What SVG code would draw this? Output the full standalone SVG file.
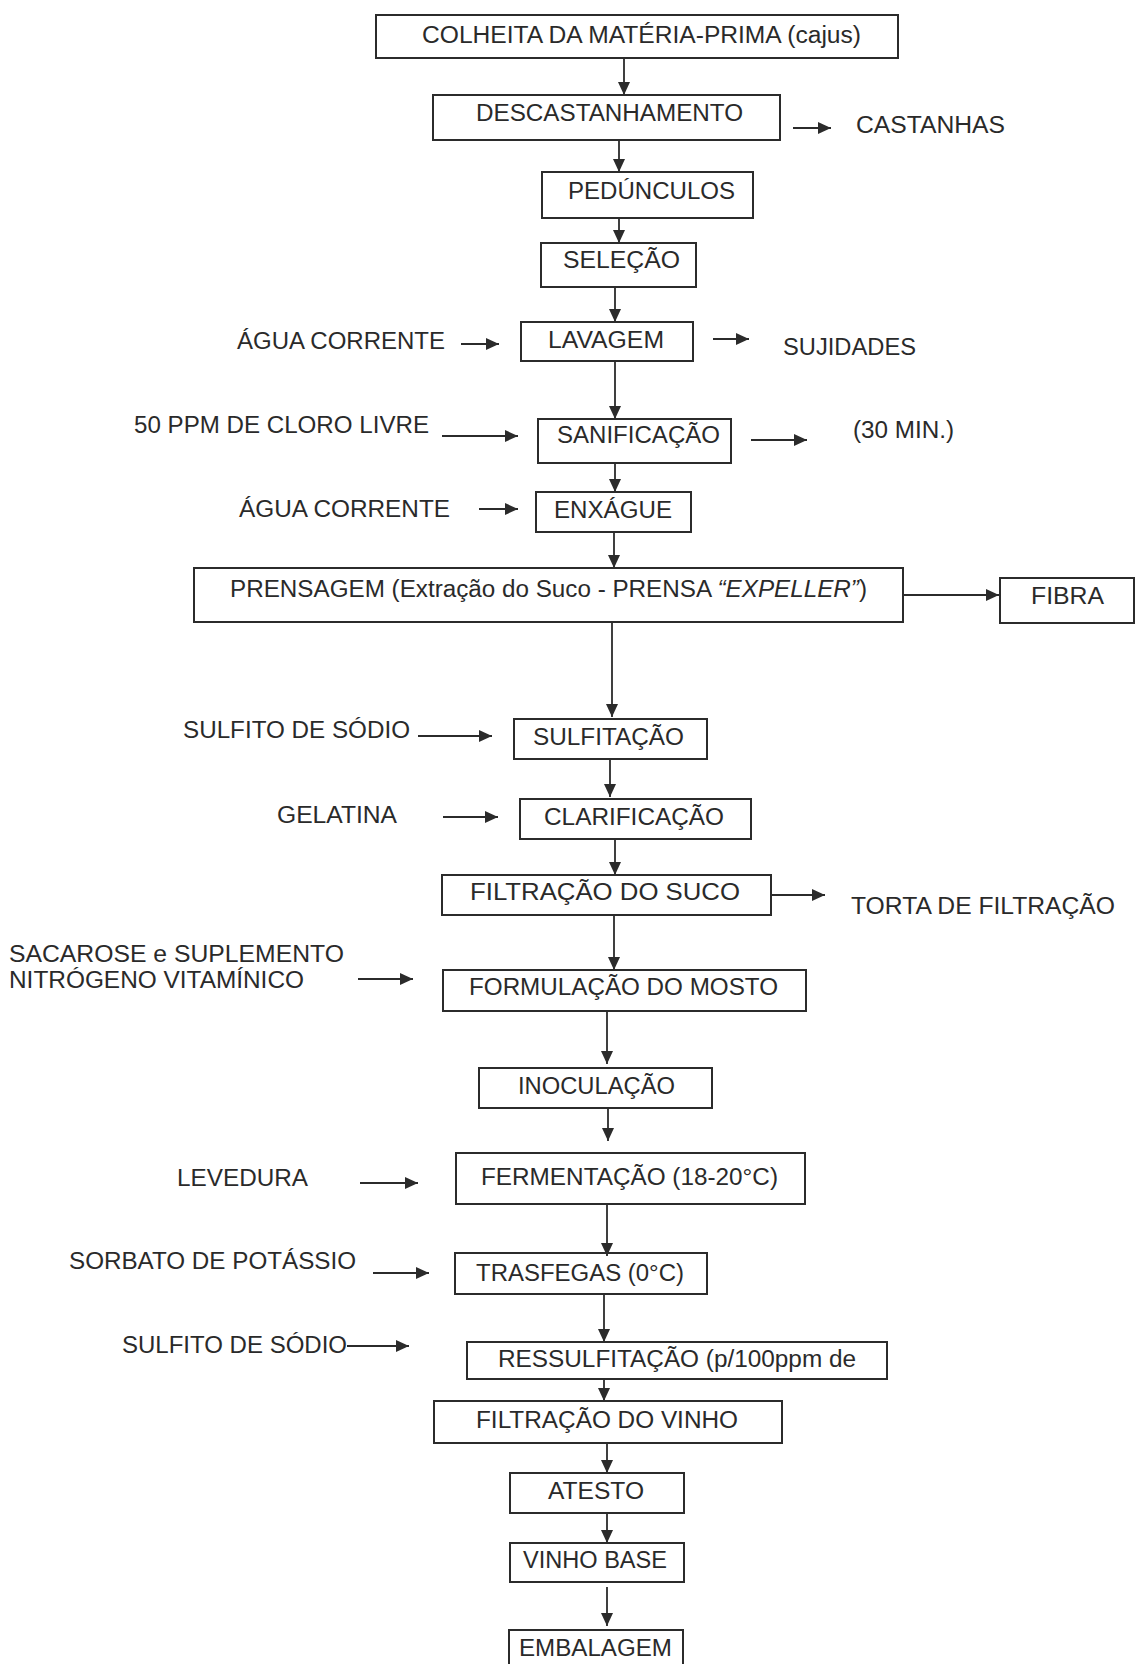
<svg xmlns="http://www.w3.org/2000/svg" width="1135" height="1664" viewBox="0 0 1135 1664">
<style>
.b{fill:none;stroke:#2b2b2b;stroke-width:2}
.t{font-family:"Liberation Sans",Arial,sans-serif;font-size:23px;fill:#2a2a2a}
.c line{stroke:#2b2b2b;stroke-width:1.8;marker-end:url(#ah)}
</style>
<defs>
<marker id="ah" markerUnits="userSpaceOnUse" markerWidth="16" markerHeight="14" refX="13" refY="6" orient="auto">
<path d="M0,0 L13,6 L0,12 Z" fill="#2b2b2b"/>
</marker>
</defs>
<rect width="1135" height="1664" fill="#fff"/>
<g id="connectors" class="c">
<line x1="624" y1="58" x2="624" y2="95"/>
<line x1="619" y1="140" x2="619" y2="172"/>
<line x1="619" y1="218" x2="619" y2="243"/>
<line x1="615" y1="287" x2="615" y2="322"/>
<line x1="615" y1="361" x2="615" y2="419"/>
<line x1="615" y1="463" x2="615" y2="492"/>
<line x1="614" y1="532" x2="614" y2="568"/>
<line x1="612" y1="622" x2="612" y2="717"/>
<line x1="610" y1="759" x2="610" y2="797"/>
<line x1="615" y1="839" x2="615" y2="875"/>
<line x1="614" y1="915" x2="614" y2="970"/>
<line x1="607" y1="1011" x2="607" y2="1064"/>
<line x1="608" y1="1108" x2="608" y2="1141"/>
<line x1="607" y1="1204" x2="607" y2="1256"/>
<line x1="604" y1="1294" x2="604" y2="1342"/>
<line x1="604" y1="1379" x2="604" y2="1401"/>
<line x1="607" y1="1443" x2="607" y2="1473"/>
<line x1="607" y1="1513" x2="607" y2="1543"/>
<line x1="607" y1="1587" x2="607" y2="1626"/>
<line x1="793" y1="128" x2="831" y2="128"/>
<line x1="461" y1="344" x2="499" y2="344"/>
<line x1="713" y1="339" x2="749" y2="339"/>
<line x1="442" y1="436" x2="518" y2="436"/>
<line x1="751" y1="440" x2="807" y2="440"/>
<line x1="479" y1="509" x2="518" y2="509"/>
<line x1="903" y1="595" x2="999" y2="595"/>
<line x1="418" y1="736" x2="492" y2="736"/>
<line x1="443" y1="817" x2="498" y2="817"/>
<line x1="771" y1="895" x2="825" y2="895"/>
<line x1="358" y1="979" x2="413" y2="979"/>
<line x1="360" y1="1183" x2="418" y2="1183"/>
<line x1="373" y1="1273" x2="429" y2="1273"/>
<line x1="347" y1="1346" x2="409" y2="1346"/>
</g>
<g id="n-colheita"><rect class="b" x="376" y="15" width="522" height="43"/><text class="t" x="422" y="43" textLength="439" lengthAdjust="spacingAndGlyphs">COLHEITA DA MATÉRIA-PRIMA (cajus)</text></g>
<g id="n-descast"><rect class="b" x="433" y="95" width="347" height="45"/><text class="t" x="476" y="121" textLength="267" lengthAdjust="spacingAndGlyphs">DESCASTANHAMENTO</text></g>
<g id="n-castanhas"><text class="t" x="856" y="133" textLength="149" lengthAdjust="spacingAndGlyphs">CASTANHAS</text></g>
<g id="n-pedunculos"><rect class="b" x="542" y="172" width="211" height="46"/><text class="t" x="568" y="199" textLength="167" lengthAdjust="spacingAndGlyphs">PEDÚNCULOS</text></g>
<g id="n-selecao"><rect class="b" x="541" y="243" width="155" height="44"/><text class="t" x="563" y="268" textLength="117" lengthAdjust="spacingAndGlyphs">SELEÇÃO</text></g>
<g id="n-agua1"><text class="t" x="237" y="349" textLength="208" lengthAdjust="spacingAndGlyphs">ÁGUA CORRENTE</text></g>
<g id="n-lavagem"><rect class="b" x="521" y="322" width="172" height="39"/><text class="t" x="548" y="348" textLength="116" lengthAdjust="spacingAndGlyphs">LAVAGEM</text></g>
<g id="n-sujidades"><text class="t" x="783" y="355" textLength="133" lengthAdjust="spacingAndGlyphs">SUJIDADES</text></g>
<g id="n-cloro"><text class="t" x="134" y="433" textLength="295" lengthAdjust="spacingAndGlyphs">50 PPM DE CLORO LIVRE</text></g>
<g id="n-sanif"><rect class="b" x="538" y="419" width="193" height="44"/><text class="t" x="557" y="443" textLength="163" lengthAdjust="spacingAndGlyphs">SANIFICAÇÃO</text></g>
<g id="n-30min"><text class="t" x="853" y="438" textLength="101" lengthAdjust="spacingAndGlyphs">(30 MIN.)</text></g>
<g id="n-agua2"><text class="t" x="239" y="517" textLength="211" lengthAdjust="spacingAndGlyphs">ÁGUA CORRENTE</text></g>
<g id="n-enxague"><rect class="b" x="536" y="492" width="155" height="40"/><text class="t" x="554" y="518" textLength="118" lengthAdjust="spacingAndGlyphs">ENXÁGUE</text></g>
<g id="n-prensagem"><rect class="b" x="194" y="568" width="709" height="54"/><text class="t" x="230" y="597" textLength="637" lengthAdjust="spacingAndGlyphs">PRENSAGEM (Extração do Suco - PRENSA <tspan font-style="italic">“EXPELLER”</tspan>)</text></g>
<g id="n-fibra"><rect class="b" x="1000" y="578" width="134" height="45"/><text class="t" x="1031" y="604" textLength="73" lengthAdjust="spacingAndGlyphs">FIBRA</text></g>
<g id="n-sulfito1"><text class="t" x="183" y="738" textLength="227" lengthAdjust="spacingAndGlyphs">SULFITO DE SÓDIO</text></g>
<g id="n-sulfitacao"><rect class="b" x="514" y="719" width="193" height="40"/><text class="t" x="533" y="745" textLength="151" lengthAdjust="spacingAndGlyphs">SULFITAÇÃO</text></g>
<g id="n-gelatina"><text class="t" x="277" y="823" textLength="120" lengthAdjust="spacingAndGlyphs">GELATINA</text></g>
<g id="n-clarif"><rect class="b" x="520" y="799" width="231" height="40"/><text class="t" x="544" y="825" textLength="180" lengthAdjust="spacingAndGlyphs">CLARIFICAÇÃO</text></g>
<g id="n-filtsuco"><rect class="b" x="442" y="875" width="329" height="40"/><text class="t" x="470" y="900" textLength="270" lengthAdjust="spacingAndGlyphs">FILTRAÇÃO DO SUCO</text></g>
<g id="n-torta"><text class="t" x="851" y="914" textLength="264" lengthAdjust="spacingAndGlyphs">TORTA DE FILTRAÇÃO</text></g>
<g id="n-sacarose"><text class="t" x="9" y="962" textLength="335" lengthAdjust="spacingAndGlyphs">SACAROSE e SUPLEMENTO</text><text class="t" x="9" y="988" textLength="295" lengthAdjust="spacingAndGlyphs">NITRÓGENO VITAMÍNICO</text></g>
<g id="n-formulacao"><rect class="b" x="443" y="970" width="363" height="41"/><text class="t" x="469" y="995" textLength="309" lengthAdjust="spacingAndGlyphs">FORMULAÇÃO DO MOSTO</text></g>
<g id="n-inoculacao"><rect class="b" x="479" y="1068" width="233" height="40"/><text class="t" x="518" y="1094" textLength="157" lengthAdjust="spacingAndGlyphs">INOCULAÇÃO</text></g>
<g id="n-levedura"><text class="t" x="177" y="1186" textLength="131" lengthAdjust="spacingAndGlyphs">LEVEDURA</text></g>
<g id="n-fermentacao"><rect class="b" x="456" y="1153" width="349" height="51"/><text class="t" x="481" y="1185" textLength="297" lengthAdjust="spacingAndGlyphs">FERMENTAÇÃO (18-20°C)</text></g>
<g id="n-sorbato"><text class="t" x="69" y="1269" textLength="287" lengthAdjust="spacingAndGlyphs">SORBATO DE POTÁSSIO</text></g>
<g id="n-trasfegas"><rect class="b" x="455" y="1253" width="252" height="41"/><text class="t" x="476" y="1281" textLength="208" lengthAdjust="spacingAndGlyphs">TRASFEGAS (0°C)</text></g>
<g id="n-sulfito2"><text class="t" x="122" y="1353" textLength="225" lengthAdjust="spacingAndGlyphs">SULFITO DE SÓDIO</text></g>
<g id="n-ressulf"><rect class="b" x="467" y="1342" width="420" height="37"/><text class="t" x="498" y="1367" textLength="358" lengthAdjust="spacingAndGlyphs">RESSULFITAÇÃO (p/100ppm de</text></g>
<g id="n-filtvinho"><rect class="b" x="434" y="1401" width="348" height="42"/><text class="t" x="476" y="1428" textLength="262" lengthAdjust="spacingAndGlyphs">FILTRAÇÃO DO VINHO</text></g>
<g id="n-atesto"><rect class="b" x="510" y="1473" width="174" height="40"/><text class="t" x="548" y="1499" textLength="96" lengthAdjust="spacingAndGlyphs">ATESTO</text></g>
<g id="n-vinhobase"><rect class="b" x="510" y="1543" width="174" height="39"/><text class="t" x="523" y="1568" textLength="144" lengthAdjust="spacingAndGlyphs">VINHO BASE</text></g>
<g id="n-embalagem"><rect class="b" x="509" y="1630" width="174" height="44"/><text class="t" x="519" y="1656" textLength="153" lengthAdjust="spacingAndGlyphs">EMBALAGEM</text></g>
</svg>
